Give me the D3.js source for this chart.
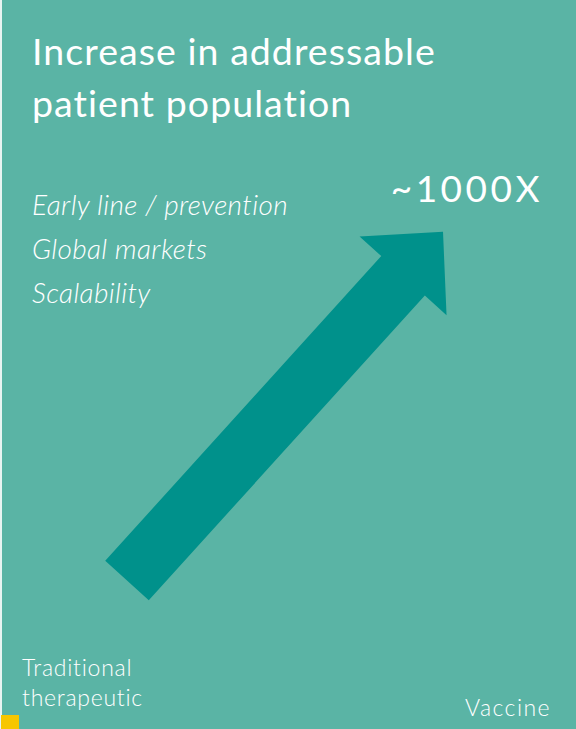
<!DOCTYPE html>
<html>
<head>
<meta charset="utf-8">
<script src="https://cdn.jsdelivr.net/npm/d3@7"></script>
<style>
  html, body { margin: 0; padding: 0; background: #ffffff; }
  svg { display: block; }
  text { font-family: Lato, "Open Sans", sans-serif; fill: #ffffff; }
</style>
</head>
<body>
<script>
// Content
const titleLines = ["Increase in addressable", "patient population"];
const drivers = ["Early line / prevention", "Global markets", "Scalability"];
const categories = ["Traditional therapeutic", "Vaccine"];
// Relative addressable population: baseline vs vaccine
const populationMultiple = [1, 1000];
const multipleLabel = "~1000X";

const W = 576, H = 729;
const svg = d3.select("body").append("svg").attr("width", W).attr("height", H);

// Panel background with thin light margin on the left
svg.append("rect").attr("x", 0).attr("y", 0).attr("width", W).attr("height", H).attr("fill", "#e9f4f2");
svg.append("rect").attr("x", 2).attr("y", 0).attr("width", W - 2).attr("height", H).attr("fill", "#5ab4a5");

// Small accent square bottom-left
svg.append("rect").attr("x", 1).attr("y", 715).attr("width", 18).attr("height", 14).attr("fill", "#f7c600");

// Scales: category position along x, population multiple (log) along y
const x = d3.scalePoint().domain(categories).range([127, 443]);
const y = d3.scaleLog().domain([1, 1000]).range([580.5, 231.7]);

// Arrow from baseline to vaccine multiple
const p0 = [x(categories[0]), y(populationMultiple[0])];
const p1 = [x(categories[1]), y(populationMultiple[1])];
const dx = p1[0] - p0[0], dy = p1[1] - p0[1];
const len = Math.hypot(dx, dy);
const ux = dx / len, uy = dy / len;      // along arrow
const nx = -uy, ny = ux;                  // perpendicular
const shaftHalf = 29.4, headHalf = 58.7, headLen = 59.5;
const base = [p1[0] - ux * headLen, p1[1] - uy * headLen];
const pt = (p, s) => [p[0] + nx * s, p[1] + ny * s];
const arrowPts = [
  pt(p0, shaftHalf), pt(base, shaftHalf), pt(base, headHalf),
  p1,
  pt(base, -headHalf), pt(base, -shaftHalf), pt(p0, -shaftHalf)
];
svg.append("path")
  .attr("d", d3.line()(arrowPts) + "Z")
  .attr("fill", "#00918b");

// Title
svg.append("g").selectAll("text").data(titleLines).join("text")
  .attr("x", 32).attr("y", (d, i) => 65 + i * 52)
  .attr("font-size", 37.5).attr("letter-spacing", 1.05)
  .text(d => d);

// Drivers (italic list)
svg.append("g").selectAll("text").data(drivers).join("text")
  .attr("x", 32).attr("y", (d, i) => 215 + i * 44)
  .attr("font-size", 28).attr("font-style", "italic").attr("font-weight", 300)
  .attr("letter-spacing", 0.35)
  .text(d => d);

// Multiple label
svg.append("text")
  .attr("x", 543).attr("y", 202).attr("text-anchor", "end")
  .attr("font-size", 37).attr("letter-spacing", 3.5)
  .text(multipleLabel);

// Category labels
svg.append("text").attr("x", 22).attr("y", 676).attr("font-size", 23).attr("font-weight", 300)
  .attr("letter-spacing", 0.75)
  .selectAll("tspan").data(categories[0].split(" ")).join("tspan")
  .attr("x", 22).attr("dy", (d, i) => i ? 30 : 0).text(d => d);
svg.append("text").attr("x", 551).attr("y", 716).attr("text-anchor", "end")
  .attr("font-size", 23).attr("font-weight", 300).attr("letter-spacing", 1.45)
  .text(categories[1]);
</script>
</body>
</html>
